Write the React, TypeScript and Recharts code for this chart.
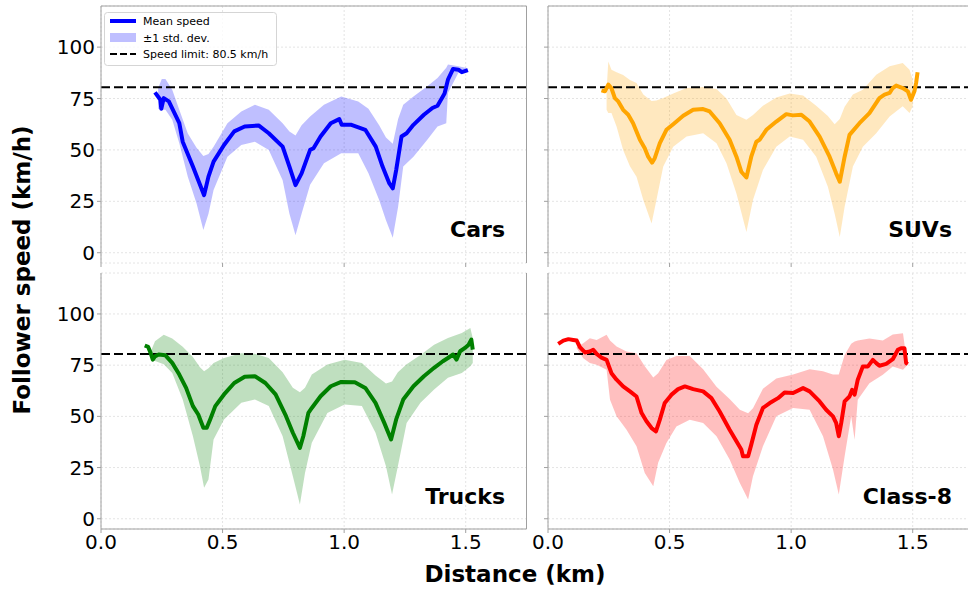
import React from 'react';
import { ComposedChart, Line, Area, XAxis, YAxis, CartesianGrid, ReferenceLine } from 'recharts';

const FONT = '"DejaVu Sans", Verdana, sans-serif';

const KM_TICKS = [0, 0.5, 1.0, 1.5];
const SPEED_TICKS = [0, 25, 50, 75, 100];
const SPEED_LIMIT = 80.5;

// Cars
const carsMeanKm = [0.222, 0.244, 0.248, 0.258, 0.279, 0.322, 0.336, 0.378, 0.4, 0.424, 0.442, 0.463, 0.506, 0.548, 0.591, 0.648, 0.69, 0.747, 0.775, 0.8, 0.825, 0.86, 0.874, 0.903, 0.945, 0.98, 0.99, 1.03, 1.087, 1.13, 1.158, 1.186, 1.2, 1.214, 1.236, 1.257, 1.285, 1.328, 1.363, 1.384, 1.406, 1.413, 1.427, 1.448, 1.47, 1.484, 1.509];
const carsMeanKmh = [78, 74.4, 70, 75.2, 73.6, 63, 54, 41.9, 35.3, 28, 37, 44.3, 52.4, 59, 61.4, 61.9, 58.1, 51.6, 41.9, 32.9, 38.6, 50, 50.8, 56.5, 63, 65, 62.2, 62.2, 59.8, 51.6, 41.9, 33.7, 31.3, 40.2, 56.5, 58.1, 62.2, 67.1, 70.4, 71.5, 76, 77.4, 84.2, 89.4, 89, 87.8, 88.8];
const carsBandKm = [0.235, 0.25, 0.265, 0.293, 0.322, 0.357, 0.393, 0.421, 0.442, 0.463, 0.52, 0.577, 0.633, 0.69, 0.747, 0.775, 0.8, 0.825, 0.86, 0.917, 0.988, 1.058, 1.1, 1.144, 1.172, 1.2, 1.222, 1.243, 1.285, 1.342, 1.384, 1.42, 1.427, 1.47, 1.505];
const carsBandLow = [70, 69.5, 69.5, 64.7, 53.3, 37, 24, 11, 19, 30.5, 46.7, 52.4, 54, 50, 35.3, 19, 8.5, 19, 33, 43.5, 48.4, 48.4, 38.6, 25.6, 15.8, 7.3, 22.3, 41.9, 46.7, 54.9, 61.4, 63, 77.7, 87.5, 87.8];
const carsBandHigh = [80, 84.5, 84.5, 79.3, 69.5, 58, 51, 47, 48, 51.6, 63, 68.7, 72, 69.5, 63, 59, 57, 62, 66.3, 72, 76, 73.6, 70, 62, 56, 53, 65, 72, 76, 81, 85, 90, 91.5, 90.7, 89.9];

// SUVs
const suvMeanKm = [0.22, 0.234, 0.248, 0.261, 0.275, 0.289, 0.309, 0.33, 0.35, 0.378, 0.398, 0.412, 0.428, 0.439, 0.46, 0.487, 0.515, 0.556, 0.597, 0.638, 0.665, 0.706, 0.747, 0.775, 0.795, 0.816, 0.836, 0.857, 0.87, 0.898, 0.939, 0.98, 1.007, 1.042, 1.076, 1.117, 1.158, 1.185, 1.2, 1.22, 1.24, 1.281, 1.322, 1.363, 1.384, 1.405, 1.418, 1.432, 1.459, 1.48, 1.493, 1.507, 1.514, 1.52];
const suvMeanKmh = [79, 78.5, 81.8, 80, 75.2, 73.6, 69.5, 67.1, 63, 54.9, 50.8, 46.7, 43.8, 46, 53.3, 59.8, 62.5, 66.6, 69.5, 69.9, 68.7, 63, 54.9, 46.7, 39.4, 36.6, 46.7, 54, 54.9, 59.8, 63.8, 67.4, 66.8, 67.1, 63.8, 56.5, 46.7, 38.6, 34.5, 46.7, 57.3, 63, 67.9, 75.2, 76.9, 77.7, 80.1, 81.3, 80.1, 78.5, 74.4, 78.5, 82.6, 87.8];
const suvBandKm = [0.241, 0.248, 0.261, 0.282, 0.309, 0.337, 0.364, 0.392, 0.426, 0.446, 0.474, 0.515, 0.57, 0.638, 0.693, 0.734, 0.775, 0.816, 0.843, 0.884, 0.939, 0.994, 1.049, 1.103, 1.151, 1.179, 1.2, 1.22, 1.254, 1.295, 1.35, 1.405, 1.459, 1.487, 1.5];
const suvBandLow = [69.5, 68, 67.9, 61.4, 50, 42, 37, 25.6, 14.2, 25.6, 41.9, 51.6, 56.5, 58.1, 53.3, 43.5, 28.8, 10.1, 25.6, 40.2, 51.6, 56.5, 54.9, 46.7, 32.1, 19, 7.7, 22.3, 41.9, 51.6, 58.1, 66.3, 71.2, 67.9, 71.2];
const suvBandHigh = [79.3, 93, 89, 87.8, 86.5, 84, 82.6, 77, 73.8, 74, 75.2, 77.4, 80.1, 80.6, 79.6, 75, 67, 64.7, 67, 71.5, 75.5, 77.5, 76.5, 71.5, 66.5, 62.5, 65, 71, 77, 79.3, 86.6, 90.7, 92.3, 89, 84.2];

// Trucks
const truckMeanKm = [0.18, 0.194, 0.204, 0.213, 0.222, 0.237, 0.265, 0.293, 0.322, 0.35, 0.378, 0.4, 0.421, 0.435, 0.449, 0.47, 0.506, 0.548, 0.591, 0.633, 0.676, 0.718, 0.761, 0.789, 0.818, 0.832, 0.853, 0.867, 0.903, 0.945, 0.988, 1.044, 1.087, 1.129, 1.165, 1.193, 1.214, 1.243, 1.285, 1.328, 1.37, 1.406, 1.427, 1.448, 1.462, 1.477, 1.497, 1.512, 1.523, 1.529];
const truckMeanKmh = [84.6, 83.9, 81, 77.7, 79.3, 80.2, 79.8, 76.1, 70.4, 63.9, 55, 50.9, 44.4, 44.4, 48.5, 55, 60.7, 66.3, 69.3, 69.6, 66.3, 60.7, 50.1, 42, 34.6, 40.3, 51.7, 54.1, 59.8, 64.7, 66.8, 66.7, 63.9, 56.6, 46.8, 38.7, 48.5, 58.2, 64.7, 69.6, 73.7, 76.9, 78.5, 80.2, 77.7, 81.8, 83.4, 85, 87.5, 82.6];
const truckBandKm = [0.208, 0.222, 0.258, 0.293, 0.336, 0.378, 0.407, 0.424, 0.442, 0.463, 0.506, 0.577, 0.633, 0.69, 0.747, 0.789, 0.818, 0.839, 0.867, 0.931, 1.002, 1.073, 1.129, 1.172, 1.197, 1.221, 1.257, 1.314, 1.37, 1.427, 1.484, 1.519, 1.529];
const truckBandLow = [77.7, 77, 75.5, 71.2, 58.2, 40.3, 25.7, 15.1, 19.2, 38.7, 48.5, 56.6, 58.2, 55, 40.3, 20.8, 7, 22.4, 37.1, 51.7, 55.8, 55, 42, 25.7, 11.9, 25.7, 46.8, 56.6, 63.1, 68.8, 71.2, 74.5, 76.1];
const truckBandHigh = [82.6, 86.7, 89.9, 88, 84, 79, 74, 72, 73.5, 76.1, 78.5, 80.8, 80.6, 78.5, 71.5, 64, 61.8, 64, 70.5, 75.3, 77.7, 76.1, 70, 66, 67, 71.5, 75.5, 80, 85, 88.3, 90.7, 93.2, 88.3];

// Class-8
const c8MeanKm = [0.042, 0.063, 0.084, 0.104, 0.118, 0.131, 0.152, 0.172, 0.186, 0.2, 0.22, 0.241, 0.261, 0.282, 0.309, 0.337, 0.364, 0.385, 0.405, 0.426, 0.444, 0.46, 0.48, 0.508, 0.535, 0.563, 0.597, 0.638, 0.672, 0.706, 0.747, 0.775, 0.795, 0.802, 0.823, 0.836, 0.857, 0.884, 0.912, 0.946, 0.973, 1.008, 1.049, 1.076, 1.117, 1.144, 1.172, 1.185, 1.196, 1.206, 1.22, 1.24, 1.251, 1.261, 1.274, 1.295, 1.316, 1.336, 1.35, 1.363, 1.391, 1.418, 1.439, 1.452, 1.466, 1.473, 1.48];
const c8MeanKmh = [85.4, 87, 87.7, 87.3, 87, 83.8, 81.2, 81.7, 82.5, 80.5, 78.7, 77.6, 71.1, 67.9, 64.6, 62.2, 59.7, 51.6, 47.6, 44.3, 42.7, 48.4, 56.5, 60.6, 63.3, 64.6, 63.3, 62.2, 58.9, 52.4, 43.5, 37.8, 33.8, 30.5, 30.5, 36.2, 45.9, 54.1, 56.5, 58.9, 61.7, 61.4, 63.8, 62.2, 57.3, 53.2, 50, 46.8, 40.3, 46.8, 57.3, 59.7, 63, 60.6, 67.9, 74.4, 74.4, 77.6, 76, 74.7, 75.6, 77.9, 82.5, 83.3, 83.3, 76, 75.5];
const c8BandKm = [0.118, 0.145, 0.172, 0.2, 0.241, 0.255, 0.282, 0.323, 0.364, 0.398, 0.433, 0.453, 0.487, 0.528, 0.583, 0.638, 0.693, 0.747, 0.789, 0.823, 0.843, 0.884, 0.939, 1.008, 1.076, 1.131, 1.172, 1.196, 1.22, 1.247, 1.261, 1.274, 1.322, 1.377, 1.418, 1.46, 1.473];
const c8BandLow = [83.3, 78.4, 76, 75.2, 72.7, 58.1, 50, 43.5, 35.4, 22.4, 15.9, 27.3, 37, 45.1, 48.4, 46.8, 40.3, 28.9, 17.5, 9.4, 20.8, 35.4, 50, 54.1, 53.2, 40.3, 24, 11.9, 30.5, 50, 38.6, 58.1, 66.2, 70.3, 74.4, 72.7, 74.4];
const c8BandHigh = [83.8, 85.7, 88.1, 87.3, 89.8, 87, 84.1, 81.7, 80.8, 74.5, 69, 71, 77.5, 79.5, 79.5, 73, 64.5, 58.5, 53.2, 51.5, 54, 63.5, 68.5, 70.5, 73, 72, 70.5, 70.5, 80, 85.5, 86.5, 87, 88, 87, 90, 90.6, 79.2];

const PLOT_W = 425.5;
const SPINE = '#a0a0a0';

type PanelProps = {
  meanKm: number[];
  meanKmh: number[];
  bandKm: number[];
  bandLow: number[];
  bandHigh: number[];
  color: string;
  plotLeft: number;
  plotTop: number;
  plotH: number;
  showYLabels: boolean;
  bottomRow: boolean;
};

const Panel: React.FC<PanelProps> = ({ meanKm, meanKmh, bandKm, bandLow, bandHigh, color, plotLeft, plotTop, plotH, showYLabels, bottomRow }) => {
  const meanData = meanKm.map((km, i) => ({ km, speed: meanKmh[i] }));
  const bandData = bandKm.map((km, i) => ({ km, range: [bandLow[i], bandHigh[i]] }));
  // right-hand panels keep a blank y axis wide enough for the "0.0" x label
  const yw = showYLabels ? 60 : 30;
  const xh = bottomRow ? 40 : 10;
  const width = yw + PLOT_W + 10;
  const height = 5 + plotH + xh;
  return (
    <div style={{ position: 'absolute', left: plotLeft - yw, top: plotTop - 5 }}>
      <ComposedChart width={width} height={height} margin={{ top: 5, right: 10, bottom: 0, left: 0 }}>
        <CartesianGrid stroke="#e4e4e4" strokeDasharray="2 2" />
        <XAxis
          type="number"
          dataKey="km"
          domain={[0, 1.75]}
          ticks={KM_TICKS}
          interval={0}
          allowDataOverflow
          height={xh}
          stroke={SPINE}
          axisLine={bottomRow ? { stroke: SPINE } : false}
          tickSize={4}
          tick={{ fill: '#000', fontSize: 20, fontFamily: FONT }}
          tickFormatter={(v: number) => (bottomRow ? v.toFixed(1) : '')}
        />
        <YAxis
          type="number"
          domain={[-5, 120]}
          ticks={SPEED_TICKS}
          interval={0}
          allowDataOverflow
          width={yw}
          stroke={SPINE}
          tickSize={4}
          tick={{ fill: '#000', fontSize: 20, fontFamily: FONT }}
          tickFormatter={(v: number) => (showYLabels ? String(v) : '')}
        />
        {!bottomRow && <ReferenceLine y={120} stroke={SPINE} />}
        <ReferenceLine x={1.75} stroke={SPINE} />
        <Area
          data={bandData}
          dataKey="range"
          type="linear"
          stroke="none"
          fill={color}
          fillOpacity={0.25}
          isAnimationActive={false}
        />
        <ReferenceLine y={SPEED_LIMIT} stroke="#000" strokeWidth={2} strokeDasharray="9 4" />
        <Line
          data={meanData}
          dataKey="speed"
          type="linear"
          stroke={color}
          strokeWidth={4}
          strokeLinejoin="round"
          dot={false}
          isAnimationActive={false}
        />
      </ComposedChart>
    </div>
  );
};

export default function App() {
  const labelStyle = { fontFamily: FONT, fontWeight: 'bold' as const, fontSize: 22 };
  const titleStyle = { fontFamily: FONT, fontWeight: 'bold' as const, fontSize: 23 };
  return (
    <div style={{ position: 'absolute', left: 0, top: 0, width: 968, height: 590, overflow: 'hidden', background: '#fff' }}>
      <Panel meanKm={carsMeanKm} meanKmh={carsMeanKmh} bandKm={carsBandKm} bandLow={carsBandLow} bandHigh={carsBandHigh}
        color="#0000ff" plotLeft={101} plotTop={6} plotH={257} showYLabels bottomRow={false} />
      <Panel meanKm={suvMeanKm} meanKmh={suvMeanKmh} bandKm={suvBandKm} bandLow={suvBandLow} bandHigh={suvBandHigh}
        color="#ffa500" plotLeft={548} plotTop={6} plotH={257} showYLabels={false} bottomRow={false} />
      <Panel meanKm={truckMeanKm} meanKmh={truckMeanKmh} bandKm={truckBandKm} bandLow={truckBandLow} bandHigh={truckBandHigh}
        color="#008000" plotLeft={101} plotTop={273} plotH={256} showYLabels bottomRow />
      <Panel meanKm={c8MeanKm} meanKmh={c8MeanKmh} bandKm={c8BandKm} bandLow={c8BandLow} bandHigh={c8BandHigh}
        color="#ff0000" plotLeft={548} plotTop={273} plotH={256} showYLabels={false} bottomRow />

      <svg width={968} height={590} style={{ position: 'absolute', left: 0, top: 0, pointerEvents: 'none' }}>
        {/* legend */}
        <rect x={104.5} y={12.5} width={172} height={53} rx={3} fill="#fff" fillOpacity={0.8} stroke="#d5d5d5" />
        <line x1={110} x2={136} y1={21} y2={21} stroke="#0000ff" strokeWidth={4} />
        <text x={143} y={25} fontFamily={FONT} fontSize={11}>Mean speed</text>
        <rect x={110} y={33} width={26} height={9} fill="#0000ff" fillOpacity={0.25} />
        <text x={143} y={42} fontFamily={FONT} fontSize={11}>±1 std. dev.</text>
        <line x1={110} x2={136} y1={54} y2={54} stroke="#000" strokeWidth={2} strokeDasharray="7 3" />
        <text x={143} y={58} fontFamily={FONT} fontSize={11}>Speed limit: 80.5 km/h</text>

        {/* panel labels */}
        <text x={505} y={237} textAnchor="end" {...labelStyle}>Cars</text>
        <text x={952} y={237} textAnchor="end" {...labelStyle}>SUVs</text>
        <text x={505} y={504} textAnchor="end" {...labelStyle}>Trucks</text>
        <text x={952} y={504} textAnchor="end" {...labelStyle}>Class-8</text>

        {/* shared axis titles */}
        <text x={515} y={582} textAnchor="middle" {...titleStyle}>Distance (km)</text>
        <text x={30} y={270} textAnchor="middle" transform="rotate(-90 30 270)" {...titleStyle}>Follower speed (km/h)</text>
      </svg>
    </div>
  );
}
